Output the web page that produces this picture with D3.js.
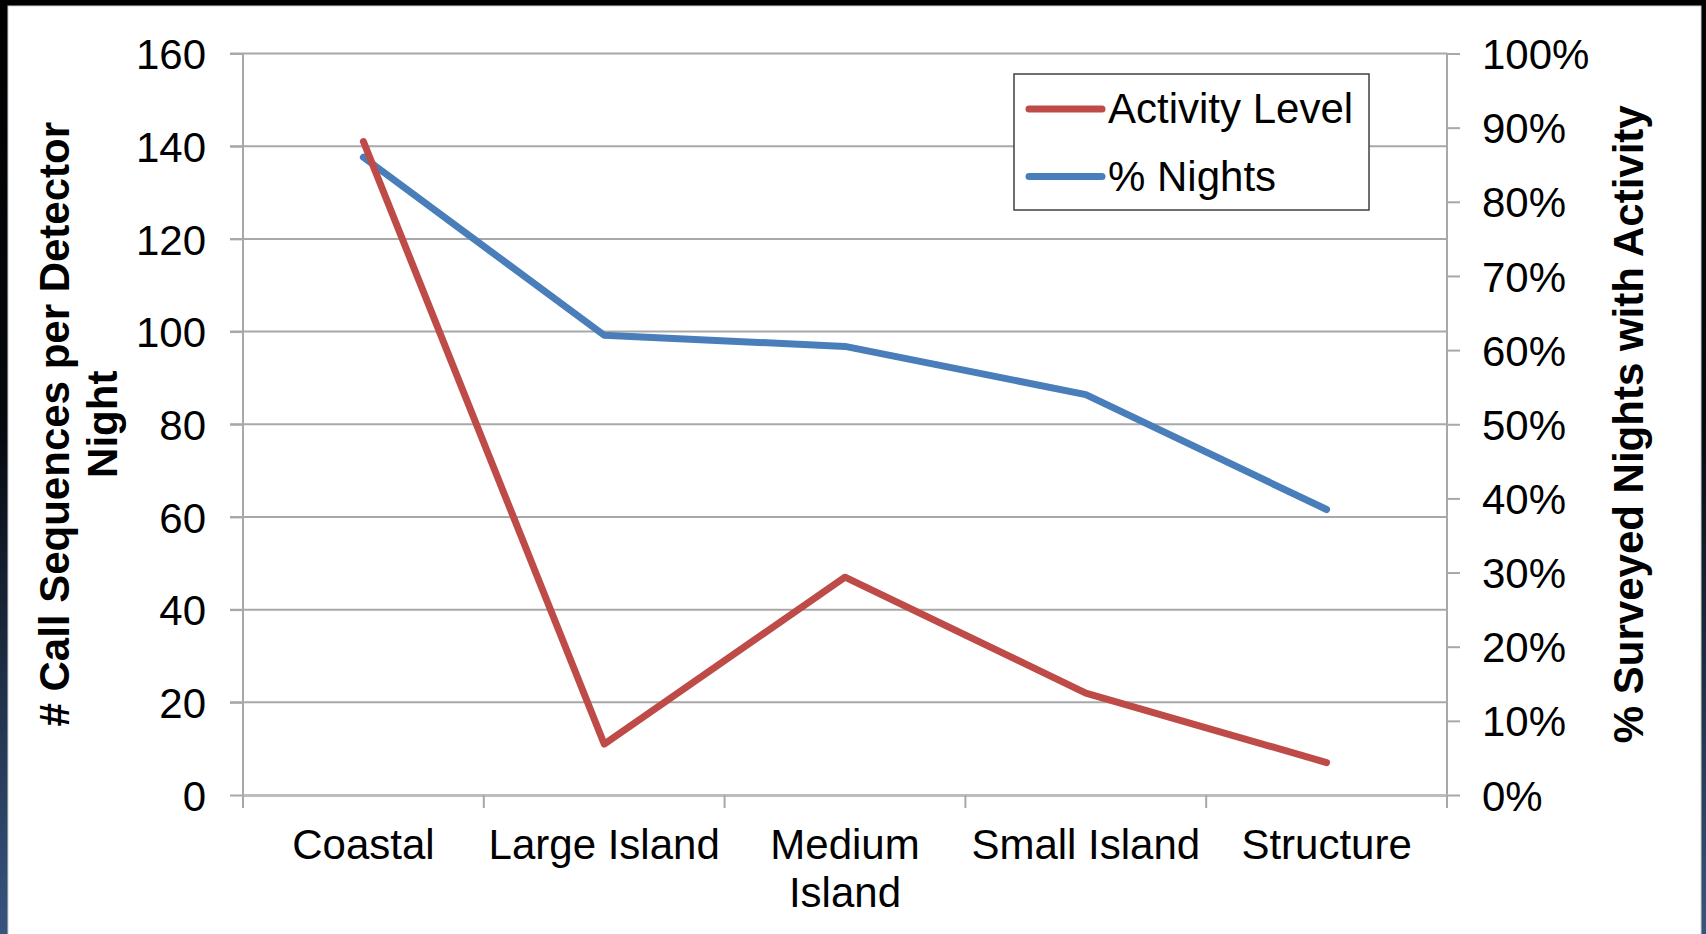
<!DOCTYPE html>
<html>
<head>
<meta charset="utf-8">
<script src="https://cdn.jsdelivr.net/npm/d3@7"></script>
<style>
  html, body { margin: 0; padding: 0; background: #000; }
  svg { display: block; }
  text { font-family: "Liberation Sans", Arial, sans-serif; fill: #000; }
</style>
</head>
<body>
<svg id="chart" width="1706" height="934"></svg>
<script>
// Site categories along the x axis
const categories = ["Coastal", "Large Island", "Medium Island", "Small Island", "Structure"];
// Call sequences per detector night (left axis)
const activityLevel = [141, 11, 47, 22, 7];
// Share of surveyed nights with activity (right axis)
const pctNights = [0.86, 0.62, 0.605, 0.54, 0.385];
// Axis ticks
const leftTicks = [0, 20, 40, 60, 80, 100, 120, 140, 160];
const rightTicks = [0, 0.1, 0.2, 0.3, 0.4, 0.5, 0.6, 0.7, 0.8, 0.9, 1.0];
// Series names
const seriesNames = ["Activity Level", "% Nights"];
const seriesColors = ["#BE4B48", "#4A7EBB"];

const W = 1706, H = 934;
const svg = d3.select("#chart");

// Slide background: dark frame fading to navy toward the bottom
const defs = svg.append("defs");
const grad = defs.append("linearGradient").attr("id", "frame").attr("x1", 0).attr("y1", 0).attr("x2", 0).attr("y2", 1);
grad.append("stop").attr("offset", "0%").attr("stop-color", "#000");
grad.append("stop").attr("offset", "45%").attr("stop-color", "#05080d");
grad.append("stop").attr("offset", "100%").attr("stop-color", "#38557f");
svg.append("rect").attr("width", W).attr("height", H).attr("fill", "url(#frame)");
svg.append("rect").attr("x", 8).attr("y", 6).attr("width", 1693).attr("height", H)
  .attr("fill", "#fff").attr("stroke", "#d0d0d0").attr("stroke-width", 1);

// Plot area
const plot = { left: 243, right: 1447, top: 53.5, bottom: 795 };

const x = d3.scaleBand().domain(categories).range([plot.left, plot.right]);
const yL = d3.scaleLinear().domain([0, 160]).range([plot.bottom, plot.top]);
const yR = d3.scaleLinear().domain([0, 1]).range([plot.bottom, plot.top]);

const gridColor = "#a8a8a8";
const fontSize = 42;
const lineWidth = 7;

// Horizontal gridlines on the left-axis ticks
svg.append("g").selectAll("line").data(leftTicks.filter(d => d > 0)).join("line")
  .attr("x1", plot.left - 13).attr("x2", plot.right)
  .attr("y1", d => yL(d)).attr("y2", d => yL(d))
  .attr("stroke", gridColor).attr("stroke-width", 2);

// Left axis
const leftAxis = svg.append("g").attr("transform", `translate(${plot.left},0)`)
  .call(d3.axisLeft(yL).tickValues(leftTicks).tickSize(13).tickPadding(24).tickSizeOuter(0));
leftAxis.select(".domain").remove();
leftAxis.selectAll(".tick line").attr("stroke", gridColor).attr("stroke-width", 2);
leftAxis.selectAll(".tick text").attr("font-size", fontSize).attr("fill", "#000")
  .attr("font-family", "Liberation Sans, Arial, sans-serif").attr("dy", "0.36em");
svg.append("line").attr("x1", plot.left).attr("x2", plot.left)
  .attr("y1", plot.top).attr("y2", plot.bottom + 13)
  .attr("stroke", gridColor).attr("stroke-width", 2);

// Right axis
const rightAxis = svg.append("g").attr("transform", `translate(${plot.right},0)`)
  .call(d3.axisRight(yR).tickValues(rightTicks).tickFormat(d3.format(".0%")).tickSize(13).tickPadding(22).tickSizeOuter(0));
rightAxis.select(".domain").remove();
rightAxis.selectAll(".tick line").attr("stroke", gridColor).attr("stroke-width", 2);
rightAxis.selectAll(".tick text").attr("font-size", fontSize).attr("fill", "#000")
  .attr("font-family", "Liberation Sans, Arial, sans-serif").attr("dy", "0.36em");
svg.append("line").attr("x1", plot.right).attr("x2", plot.right)
  .attr("y1", plot.top).attr("y2", plot.bottom + 13)
  .attr("stroke", gridColor).attr("stroke-width", 2);

// Category axis
const bottomAxis = svg.append("g").attr("transform", `translate(0,${plot.bottom})`)
  .call(d3.axisBottom(x).tickSize(0).tickFormat(""));
bottomAxis.select(".domain").attr("stroke", "#bdbdbd").attr("stroke-width", 3);
const boundaries = categories.map(c => x(c)).concat([plot.right]);
svg.append("g").selectAll("line").data(boundaries).join("line")
  .attr("x1", d => d).attr("x2", d => d)
  .attr("y1", plot.bottom).attr("y2", plot.bottom + 13)
  .attr("stroke", gridColor).attr("stroke-width", 2);

// Category labels, wrapped when wider than a band
const labelLines = { "Medium Island": ["Medium", "Island"] };
const catLabels = svg.append("g").selectAll("text").data(categories).join("text")
  .attr("text-anchor", "middle").attr("font-size", fontSize)
  .attr("x", d => x(d) + x.bandwidth() / 2).attr("y", 859);
catLabels.each(function(d) {
  const lines = labelLines[d] || [d];
  const t = d3.select(this);
  lines.forEach((ln, i) => {
    t.append("tspan").attr("x", x(d) + x.bandwidth() / 2).attr("dy", i === 0 ? 0 : 48).text(ln);
  });
});

// Series lines
const cx = d => x(d) + x.bandwidth() / 2;
const activityLine = d3.line().x((d, i) => cx(categories[i])).y(d => yL(d));
const nightsLine = d3.line().x((d, i) => cx(categories[i])).y(d => yR(d));

svg.append("path").datum(pctNights).attr("d", nightsLine)
  .attr("fill", "none").attr("stroke", seriesColors[1]).attr("stroke-width", lineWidth)
  .attr("stroke-linejoin", "round").attr("stroke-linecap", "round");
svg.append("path").datum(activityLevel).attr("d", activityLine)
  .attr("fill", "none").attr("stroke", seriesColors[0]).attr("stroke-width", lineWidth)
  .attr("stroke-linejoin", "round").attr("stroke-linecap", "round");

// Axis titles
svg.append("text")
  .attr("transform", `translate(69,${(plot.top + plot.bottom) / 2}) rotate(-90)`)
  .attr("text-anchor", "middle").attr("font-size", fontSize).attr("font-weight", "bold")
  .text("# Call Sequences per Detector");
svg.append("text")
  .attr("transform", `translate(117,${(plot.top + plot.bottom) / 2}) rotate(-90)`)
  .attr("text-anchor", "middle").attr("font-size", fontSize).attr("font-weight", "bold")
  .text("Night");
svg.append("text")
  .attr("transform", `translate(1643,${(plot.top + plot.bottom) / 2}) rotate(-90)`)
  .attr("text-anchor", "middle").attr("font-size", fontSize).attr("font-weight", "bold")
  .text("% Surveyed Nights with Activity");

// Legend
const legend = svg.append("g").attr("transform", "translate(1014,74)");
legend.append("rect").attr("width", 355).attr("height", 136)
  .attr("fill", "#fff").attr("stroke", "#404040").attr("stroke-width", 1.5);
const items = legend.selectAll("g").data(seriesNames).join("g")
  .attr("transform", (d, i) => `translate(0,${35 + i * 67.5})`);
items.append("line").attr("x1", 15).attr("x2", 88)
  .attr("stroke", (d, i) => seriesColors[i]).attr("stroke-width", lineWidth).attr("stroke-linecap", "round");
items.append("text").attr("x", 94).attr("y", 14).attr("font-size", fontSize).text(d => d);
</script>
</body>
</html>
